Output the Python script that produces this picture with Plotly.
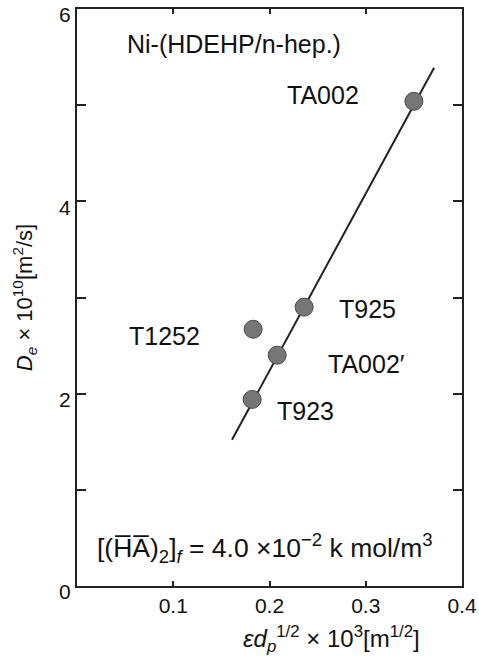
import plotly.graph_objects as go

# Data
samples = ["TA002", "T925", "T1252", "TA002\u2032", "T923"]
eps_dp = [0.350, 0.236, 0.183, 0.208, 0.182]       # εd_p^1/2 × 10^3 [m^1/2]
De = [5.04, 2.90, 2.67, 2.40, 1.94]                 # D_e × 10^10 [m^2/s]

fit_x = [0.161, 0.371]
fit_y = [1.52, 5.39]

x_ticks = [0.1, 0.2, 0.3, 0.4]
x_ticklabels = ["0.1", "0.2", "0.3", "0.4"]
y_ticks = [0, 1, 2, 3, 4, 5, 6]
y_ticklabels = ["0", "", "2", "", "4", "", "6"]

# label positions (data coords) for each sample name
label_x = [0.2556, 0.3020, 0.0904, 0.3003, 0.2369]
label_y = [5.105, 2.88, 2.60, 2.31, 1.82]

FONT = "Liberation Sans, Arial, Helvetica, sans-serif"
TXT = "#111111"

fig = go.Figure()

fig.add_trace(go.Scatter(
    x=fit_x, y=fit_y, mode="lines",
    line=dict(color="#222222", width=2),
    showlegend=False, hoverinfo="skip",
))

fig.add_trace(go.Scatter(
    x=eps_dp, y=De, mode="markers",
    marker=dict(size=18, color="#767676", line=dict(color="#4a4a4a", width=1)),
    text=samples, showlegend=False,
))

for name, lx, ly in zip(samples, label_x, label_y):
    fig.add_annotation(x=lx, y=ly, text=name, showarrow=False,
                       xanchor="center", yanchor="middle",
                       font=dict(size=25, color=TXT, family=FONT))

fig.add_annotation(x=0.0499, y=5.64, text="Ni-(HDEHP/n-hep.)", showarrow=False,
                   xanchor="left", yanchor="middle",
                   font=dict(size=25, color=TXT, family=FONT))

fig.add_annotation(
    x=0.0187, y=0.40,
    text="[(H\u0305A\u0305)<sub>2</sub>]<sub><i>f</i></sub> = 4.0 \u00d710<sup>\u22122</sup> k mol/m<sup>3</sup>",
    showarrow=False, xanchor="left", yanchor="middle",
    font=dict(size=26.5, color=TXT, family=FONT))

# x-axis title (placed right of centre as in the reference)
fig.add_annotation(
    xref="paper", yref="paper", x=0.66, y=-0.092,
    text="<i>\u03b5d</i><sub><i>p</i></sub><sup>1/2</sup> \u00d7 10<sup>3</sup>[m<sup>1/2</sup>]",
    showarrow=False, xanchor="center", yanchor="middle",
    font=dict(size=24, color=TXT, family=FONT))

axis_common = dict(
    showline=True, linecolor="#222222", linewidth=2, mirror="ticks",
    ticks="inside", tickcolor="#222222", tickwidth=1.5,
    showgrid=False, zeroline=False,
    tickfont=dict(size=21, color=TXT, family=FONT),
    ticklabeloverflow="allow", automargin=False,
)

fig.update_xaxes(
    range=[0, 0.4], tickvals=x_ticks, ticktext=x_ticklabels, ticklen=5,
    **axis_common,
)
fig.update_yaxes(
    range=[0, 6], tickvals=y_ticks, ticktext=y_ticklabels, ticklen=9,
    ticklabelshift=6,
    title=dict(text="<i>D</i><sub><i>e</i></sub> \u00d7 10<sup>10</sup>[m<sup>2</sup>/s]",
               font=dict(size=22, color=TXT, family=FONT), standoff=20),
    **axis_common,
)

fig.update_layout(
    width=479, height=663,
    margin=dict(l=77, r=17, t=9, b=77, autoexpand=False),
    paper_bgcolor="white", plot_bgcolor="white",
    font=dict(family=FONT, color=TXT),
)

fig.write_html("out.html")
